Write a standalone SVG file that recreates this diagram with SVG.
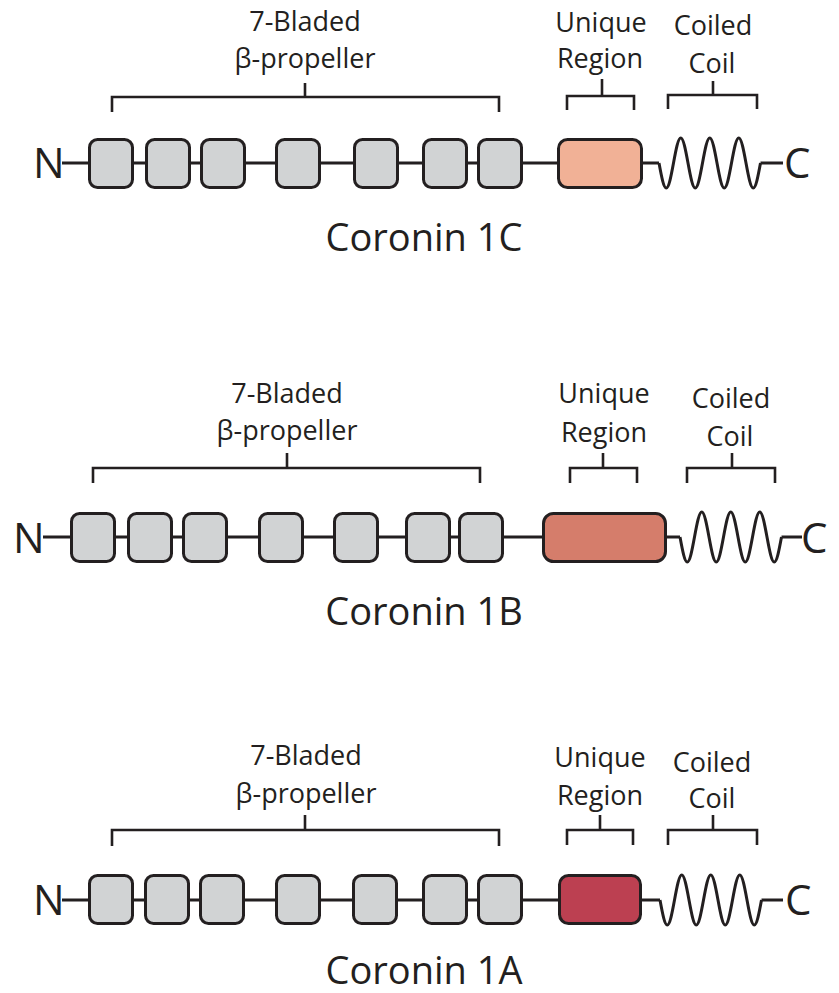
<svg xmlns="http://www.w3.org/2000/svg" xmlns:xlink="http://www.w3.org/1999/xlink" width="839" height="993" viewBox="0 0 839 993">
<style>
text{font-family:"Open Sans","Noto Sans","Liberation Sans",sans-serif;fill:#231f20}
.lbl{font-size:27px;text-anchor:middle}
.ttl{font-size:38px;text-anchor:middle}
.end{font-size:42px}
.line{stroke:#231f20;stroke-width:3;fill:none}
.br{stroke:#231f20;stroke-width:2.6;fill:none}
.blade{fill:#d1d3d4;stroke:#231f20;stroke-width:3}
.uniq{stroke:#231f20;stroke-width:3}
</style>
<defs>
<path id="coil" d="M0,0 c2.36,12.81 4.63,25 7.25,25 c2.62,0 4.89,-12.19 7.25,-25 c2.36,-12.81 4.63,-25 7.25,-25 c2.62,0 4.89,12.19 7.25,25 c2.36,12.81 4.63,25 7.25,25 c2.62,0 4.89,-12.19 7.25,-25 c2.36,-12.81 4.63,-25 7.25,-25 c2.62,0 4.89,12.19 7.25,25 c2.36,12.81 4.63,25 7.25,25 c2.62,0 4.89,-12.19 7.25,-25 c2.36,-12.81 4.63,-25 7.25,-25 c2.62,0 4.89,12.19 7.25,25 c2.36,12.81 4.63,25 7.25,25 c2.62,0 4.89,-12.19 7.25,-25" class="line"/>
</defs>

<!-- Coronin 1C -->
<g id="coronin1C">
  <g id="c1c-connectors">
    <path class="line" d="M62,163 H659 M760.5,163 H783"/>
    <use xlink:href="#coil" href="#coil" x="659" y="163"/>
    <path class="br" d="M112,112 V97 H499 V112 M305,97 V83"/>
    <path class="br" d="M567,110 V96 H634 V110 M602,96 V79"/>
    <path class="br" d="M668,109 V95 H757 V109 M713,95 V81"/>
  </g>
  <g id="c1c-blades">
    <rect class="blade" x="89.5" y="139.5" width="43" height="48" rx="8"/>
    <rect class="blade" x="146.5" y="139.5" width="43" height="48" rx="8"/>
    <rect class="blade" x="201.5" y="139.5" width="43" height="48" rx="8"/>
    <rect class="blade" x="276.5" y="139.5" width="43" height="48" rx="8"/>
    <rect class="blade" x="354.5" y="139.5" width="43" height="48" rx="8"/>
    <rect class="blade" x="423.5" y="139.5" width="43" height="48" rx="8"/>
    <rect class="blade" x="478.5" y="139.5" width="43" height="48" rx="8"/>
  </g>
  <g id="c1c-unique"><rect class="uniq" x="558.5" y="139.5" width="83" height="48" rx="9" fill="#f1b196"/></g>
  <text class="end" x="33" y="178">N</text>
  <text class="end" x="784" y="178">C</text>
  <text class="lbl" x="305" y="31">7-Bladed</text>
  <text class="lbl" x="305" y="68">β-propeller</text>
  <text class="lbl" x="601" y="32">Unique</text>
  <text class="lbl" x="600" y="68">Region</text>
  <text class="lbl" x="713" y="35">Coiled</text>
  <text class="lbl" x="712" y="73">Coil</text>
  <text class="ttl" x="424" y="251">Coronin 1C</text>
</g>

<!-- Coronin 1B -->
<g id="coronin1B">
  <g id="c1b-connectors">
    <path class="line" d="M43,537 H680 M781.5,537 H802"/>
    <use xlink:href="#coil" href="#coil" x="680" y="537"/>
    <path class="br" d="M93,483 V468 H480 V483 M287,468 V453"/>
    <path class="br" d="M570,483 V468 H637 V483 M603,468 V453"/>
    <path class="br" d="M687,483 V468 H775 V483 M732,468 V453"/>
  </g>
  <g id="c1b-blades">
    <rect class="blade" x="71.5" y="513.5" width="43" height="48" rx="8"/>
    <rect class="blade" x="128.5" y="513.5" width="43" height="48" rx="8"/>
    <rect class="blade" x="183.5" y="513.5" width="43" height="48" rx="8"/>
    <rect class="blade" x="259.5" y="513.5" width="43" height="48" rx="8"/>
    <rect class="blade" x="334.5" y="513.5" width="43" height="48" rx="8"/>
    <rect class="blade" x="406.5" y="513.5" width="43" height="48" rx="8"/>
    <rect class="blade" x="459.5" y="513.5" width="43" height="48" rx="8"/>
  </g>
  <g id="c1b-unique"><rect class="uniq" x="543.5" y="513.5" width="122" height="48" rx="10" fill="#d57d6b"/></g>
  <text class="end" x="13" y="553">N</text>
  <text class="end" x="801" y="553">C</text>
  <text class="lbl" x="287" y="403">7-Bladed</text>
  <text class="lbl" x="287" y="440">β-propeller</text>
  <text class="lbl" x="604" y="403">Unique</text>
  <text class="lbl" x="604" y="442">Region</text>
  <text class="lbl" x="731" y="408">Coiled</text>
  <text class="lbl" x="730" y="446">Coil</text>
  <text class="ttl" x="424" y="625">Coronin 1B</text>
</g>

<!-- Coronin 1A -->
<g id="coronin1A">
  <g id="c1a-connectors">
    <path class="line" d="M62,900 H660 M761.5,900 H783"/>
    <use xlink:href="#coil" href="#coil" x="660" y="900"/>
    <path class="br" d="M112,846 V830 H499 V846 M305,830 V815"/>
    <path class="br" d="M567,845 V830 H633 V845 M600,830 V815"/>
    <path class="br" d="M668,845 V830 H757 V845 M713,830 V815"/>
  </g>
  <g id="c1a-blades">
    <rect class="blade" x="89.5" y="875.5" width="43" height="48" rx="8"/>
    <rect class="blade" x="145.5" y="875.5" width="43" height="48" rx="8"/>
    <rect class="blade" x="200.5" y="875.5" width="43" height="48" rx="8"/>
    <rect class="blade" x="276.5" y="875.5" width="43" height="48" rx="8"/>
    <rect class="blade" x="353.5" y="875.5" width="43" height="48" rx="8"/>
    <rect class="blade" x="423.5" y="875.5" width="43" height="48" rx="8"/>
    <rect class="blade" x="478.5" y="875.5" width="43" height="48" rx="8"/>
  </g>
  <g id="c1a-unique"><rect class="uniq" x="559.5" y="875.5" width="81" height="48" rx="9" fill="#bc4051"/></g>
  <text class="end" x="33" y="915">N</text>
  <text class="end" x="785" y="915">C</text>
  <text class="lbl" x="306" y="765">7-Bladed</text>
  <text class="lbl" x="306" y="803">β-propeller</text>
  <text class="lbl" x="600" y="767">Unique</text>
  <text class="lbl" x="600" y="805">Region</text>
  <text class="lbl" x="712" y="772">Coiled</text>
  <text class="lbl" x="712" y="808">Coil</text>
  <text class="ttl" x="424" y="984">Coronin 1A</text>
</g>
</svg>
